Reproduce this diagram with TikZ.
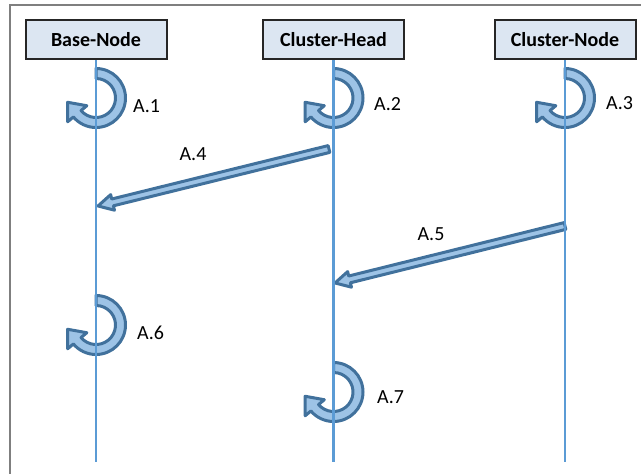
\documentclass[tikz,border=0pt]{standalone}
\usepackage{fontspec}
\setmainfont{Carlito}
\usetikzlibrary{calc,positioning}
\definecolor{lifeblue}{HTML}{5B9BD5}
\definecolor{arrowfill}{HTML}{9DC3E6}
\definecolor{arrowline}{HTML}{41719C}
\definecolor{boxfill}{HTML}{DCE6F2}
\definecolor{framegray}{HTML}{7F7F7F}
\tikzset{
  actor/.style={draw=black!85, line width=2pt, fill=boxfill, minimum width=141pt,
    minimum height=39pt, inner sep=0pt, font=\fontsize{20}{24}\selectfont\bfseries},
  lifeline/.style={lifeblue, line width=2.4pt},
  blockarrow/.style={draw=arrowline, fill=arrowfill, line width=3pt, line join=round},
  steplabel/.style={font=\fontsize{20}{24}\selectfont, inner sep=0pt}
}
% curled arrow around a point of a lifeline
\newcommand{\selfloop}[1]{%
  \draw[blockarrow] ($(#1)+(90:29.5pt)$) arc[start angle=90, end angle=-140, radius=29.5pt]
    -- ($(#1)+(-140:37pt)$) -- ($(#1)+(-140:24.5pt)+(130:15pt)$) -- ($(#1)+(-140:12pt)$)
    -- ($(#1)+(-140:19.5pt)$) arc[start angle=-140, end angle=90, radius=19.5pt] -- cycle;}
% straight block arrow from #1 to #2
\newcommand{\msgarrow}[2]{%
  \coordinate (hb) at ($(#2)!15pt!(#1)$);
  \draw[blockarrow] ($(#1)!3.5pt!90:(#2)$) -- ($(hb)!3.5pt!-90:(#1)$) -- ($(hb)!8pt!-90:(#1)$)
    -- (#2) -- ($(hb)!8pt!90:(#1)$) -- ($(hb)!3.5pt!90:(#1)$) -- ($(#1)!3.5pt!-90:(#2)$) -- cycle;}

\begin{document}
\begin{tikzpicture}[x=1pt,y=1pt]
\useasboundingbox (0,0) rectangle (641,-474);
\draw[framegray, line width=2pt] (10,-474) -- (10,-5) -- (641,-5);

\node[actor] (bn) at (96,-39.5) {Base-Node};
\node[actor] (ch) at (333.5,-39.5) {Cluster-Head};
\node[actor] (cn) at (565,-39.5) {Cluster-Node};

\coordinate (bn-end) at (96,-462);
\coordinate (ch-end) at (333.5,-462);
\coordinate (cn-end) at (565,-462);

% self steps
\coordinate (l1) at (96,-98);
\coordinate (l2) at (333.5,-98);
\coordinate (l3) at (565,-98);
\coordinate (l6) at (96,-325);
\coordinate (l7) at (333.5,-392);
\selfloop{l1}
\selfloop{l2}
\selfloop{l3}
\selfloop{l6}
\selfloop{l7}

% messages
\coordinate (a4s) at (329,-149);
\coordinate (a4e) at (98,-206);
\coordinate (a5s) at (565,-226);
\coordinate (a5e) at (335,-283);
\msgarrow{a4s}{a4e}
\msgarrow{a5s}{a5e}

\draw[lifeline] (bn.south) -- (bn-end);
\draw[lifeline] (ch.south) -- (ch-end);
\draw[lifeline] (cn.south) -- (cn-end);

\node[steplabel, anchor=west] (t1) at (133,-106) {A.1};
\node[steplabel, anchor=west] (t2) at (374,-104) {A.2};
\node[steplabel, anchor=west] (t3) at (606,-103) {A.3};
\node[steplabel] (t4) at (193,-154) {A.4};
\node[steplabel] (t5) at (431,-234) {A.5};
\node[steplabel, anchor=west] (t6) at (137,-333) {A.6};
\node[steplabel, anchor=west] (t7) at (377,-397) {A.7};
\end{tikzpicture}
\end{document}
